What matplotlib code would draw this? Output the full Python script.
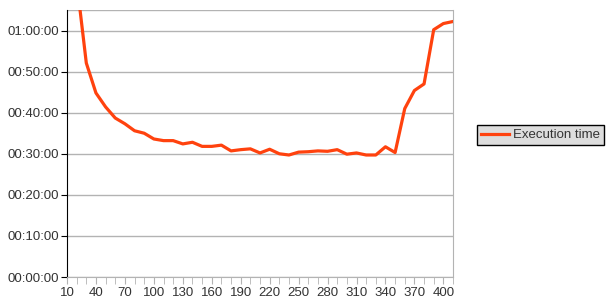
import matplotlib
matplotlib.use("Agg")
import matplotlib.pyplot as plt
from matplotlib.ticker import FuncFormatter, MultipleLocator

plt.rcParams['font.family'] = ['Liberation Sans', 'DejaVu Sans']

# thread count / execution time in minutes
threads = list(range(10, 420, 10))
minutes = [95.0, 72.0, 52.1, 44.8, 41.4, 38.7, 37.3, 35.6, 35.0, 33.6,
           33.2, 33.2, 32.4, 32.8, 31.8, 31.8, 32.1, 30.7, 31.0, 31.2,
           30.2, 31.1, 30.0, 29.7, 30.4, 30.5, 30.7, 30.6, 31.0, 29.9,
           30.2, 29.7, 29.7, 31.7, 30.3, 41.0, 45.4, 47.0, 60.2, 61.7,
           62.2]
seconds = [m * 60 for m in minutes]

x_labels = list(range(10, 410, 30))
text_col = "#333333"
grid_col = "#b3b3b3"

fig = plt.figure(figsize=(6.1, 3.06), dpi=100)
ax = fig.add_axes([67 / 610, 29 / 306, 386 / 610, 267 / 306])

ax.plot(threads, seconds, color="#ff420e", lw=2.3, label="Execution time",
        solid_joinstyle="round")

ax.set_xlim(10, 410)
ax.set_ylim(0, 65 * 60)

def hms(v, pos):
    v = int(round(v))
    return f"{v // 3600:02d}:{(v % 3600) // 60:02d}:{v % 60:02d}"

ax.yaxis.set_major_locator(MultipleLocator(600))
ax.yaxis.set_major_formatter(FuncFormatter(hms))
ax.set_xticks(x_labels)
ax.set_xticks(threads, minor=True)

ax.grid(True, axis="y", color=grid_col, lw=1)
ax.set_axisbelow(True)

for s in ["top", "right", "bottom"]:
    ax.spines[s].set_color(grid_col)
ax.spines["left"].set_color("black")
ax.spines["top"].set_visible(False)
ax.axhline(65 * 60, color=grid_col, lw=1, zorder=0)

ax.tick_params(axis="y", direction="out", length=4, color="black",
               labelsize=9.5, labelcolor=text_col, pad=2)
ax.tick_params(axis="x", which="both", direction="out", length=5,
               color=grid_col, labelsize=9.5, labelcolor=text_col, pad=2)

leg = fig.legend(loc="center left", bbox_to_anchor=(477 / 610, 1 - 135 / 306),
                 fontsize=9.5, frameon=True, fancybox=False,
                 handlelength=2.1, borderpad=0.3, handletextpad=0.3,
                 borderaxespad=0)
leg.get_frame().set_facecolor("#dddddd")
leg.get_frame().set_edgecolor("black")
leg.get_frame().set_alpha(1)
for t in leg.get_texts():
    t.set_color(text_col)

fig.savefig("out.png", dpi=100)
